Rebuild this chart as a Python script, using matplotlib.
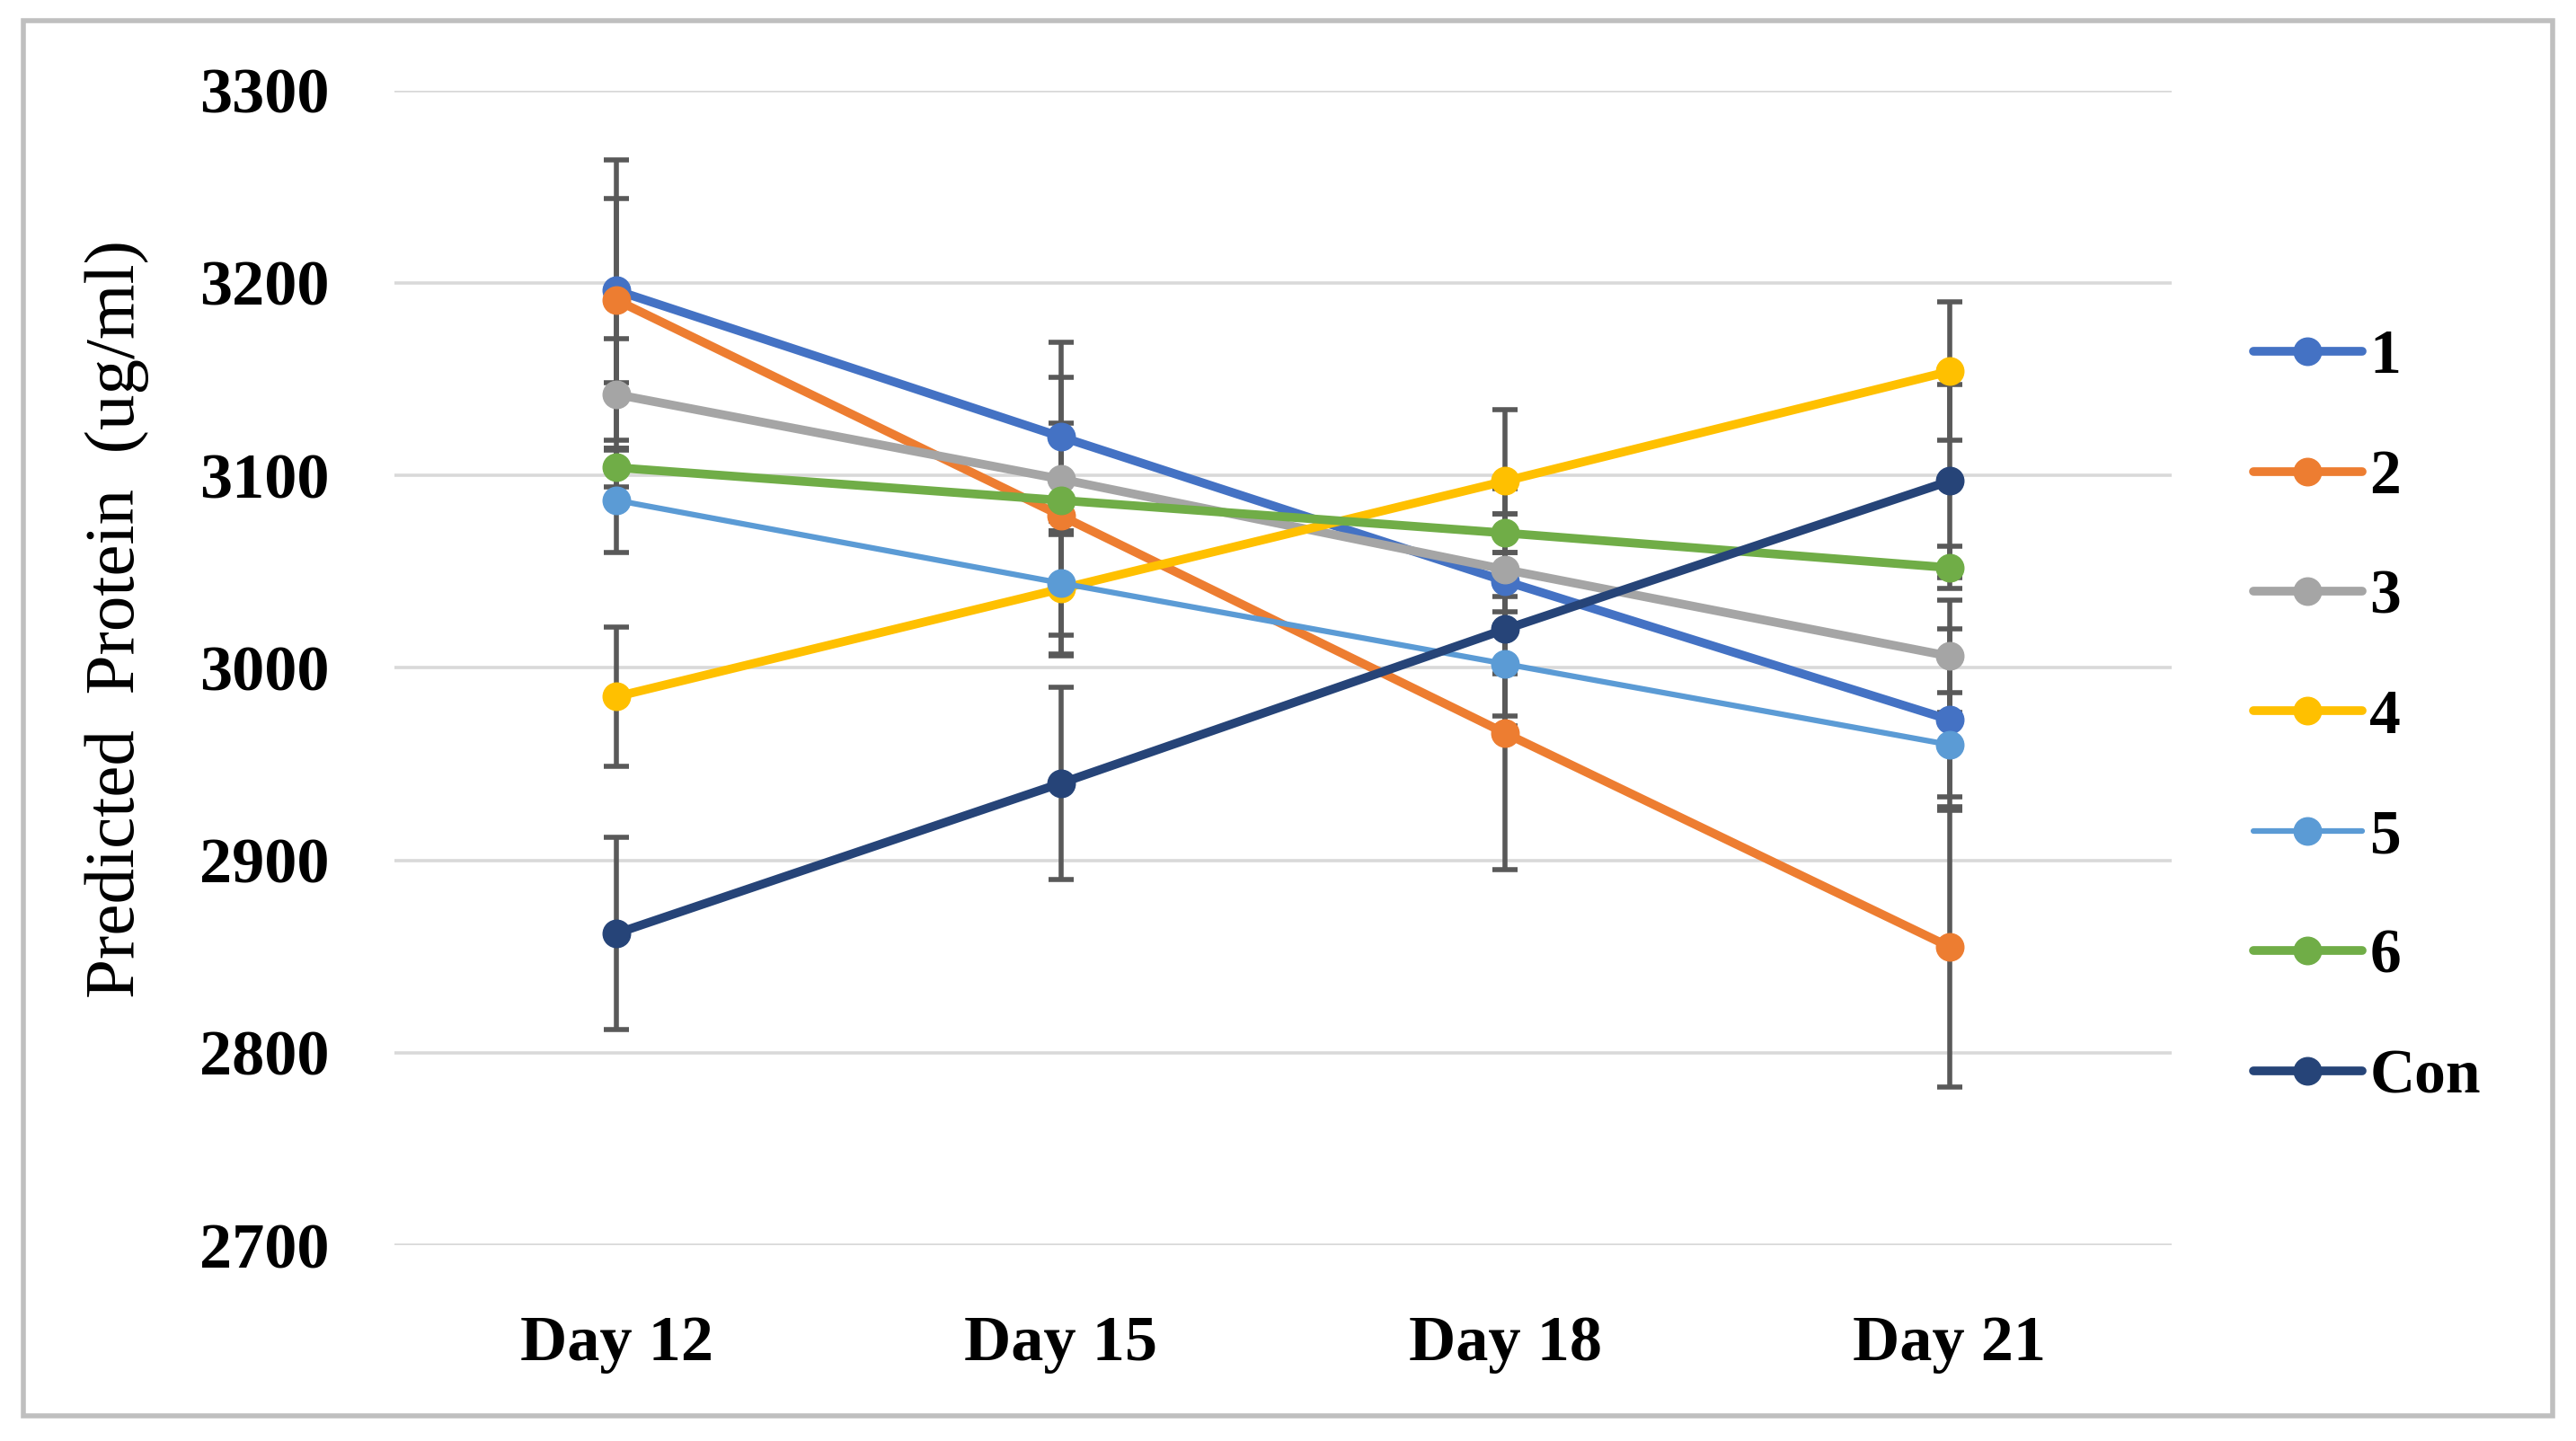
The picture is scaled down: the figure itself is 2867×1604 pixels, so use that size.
import matplotlib.pyplot as plt
from matplotlib.patches import Rectangle

dias = ["Day 12", "Day 15", "Day 18", "Day 21"]
series = ["1", "2", "3", "4", "5", "6", "Con"]

s1 = [3196, 3120, 3045, 2973]
s2 = [3191, 3079, 2966, 2855]
s3 = [3142, 3098, 3051, 3006]
s4 = [2985, 3041, 3097, 3154]
s5 = [3087, 3044, 3002, 2960]
s6 = [3104, 3087, 3070, 3052]
con = [2862, 2940, 3020, 3097]

e1 = [48, 49, 48, 47]
e2 = [73, 72, 71, 73]
e3 = [29, 29, 29, 29]
e4 = [36, 35, 37, 36]
e5 = [27, 27, 27, 27]
e6 = [10, 10, 10, 11]
econ = [50, 50, 50, 50]

valores = [s1, s2, s3, s4, s5, s6, con]
erros = [e1, e2, e3, e4, e5, e6, econ]
cores = ["#4472C4", "#ED7D31", "#A5A5A5", "#FFC000", "#5B9BD5", "#70AD47", "#264478"]
larguras = [7, 7, 7, 7, 4.5, 7, 7]

plt.rcParams['font.family'] = ['Liberation Serif', 'DejaVu Serif']

fig = plt.figure(figsize=(28.67, 16.04), dpi=100)
ax = fig.add_axes([0.1531, 0.1359, 0.690, 0.8014])

x = list(range(len(dias)))

# barras de erro primeiro, atras das linhas
for v, e in zip(valores, erros):
    ax.errorbar(x, v, yerr=e, fmt='none', ecolor='#595959', elinewidth=4,
                capsize=10, capthick=4, zorder=2)

for nome, v, c, lw in zip(series, valores, cores, larguras):
    ax.plot(x, v, marker='o', color=c, linewidth=lw, markersize=22,
            label=nome, zorder=3, solid_capstyle='round')

ax.set_xlim(-0.5, 3.5)
ax.set_ylim(2700, 3300)
ax.set_yticks(range(2700, 3301, 100))
ax.set_xticks(x)
ax.set_xticklabels(dias)
ax.grid(axis='y', color='#D9D9D9', linewidth=2.6, zorder=0)
ax.set_axisbelow(True)
for s in ax.spines.values():
    s.set_visible(False)
ax.tick_params(length=0, labelsize=52)
ax.tick_params(axis='x', pad=56)
ax.tick_params(axis='y', pad=52)
for t in ax.get_xticklabels() + ax.get_yticklabels():
    t.set_fontweight('bold')

ax.set_ylabel("Predicted  Protein  (ug/ml)", fontsize=57)
ax.yaxis.set_label_coords(-0.138, 0.542)

leg = fig.legend(loc='center left', bbox_to_anchor=(0.8748, 0.502), frameon=False,
                 fontsize=50, labelspacing=1.0, handlelength=1.74,
                 handletextpad=0.12, borderpad=0, borderaxespad=0)
for t in leg.get_texts():
    t.set_fontweight('bold')

fig.patches.append(Rectangle((0.009, 0.0175), 0.982, 0.968, transform=fig.transFigure,
                             fill=False, edgecolor='#BFBFBF', linewidth=4))

fig.savefig("out.png", dpi=100)
